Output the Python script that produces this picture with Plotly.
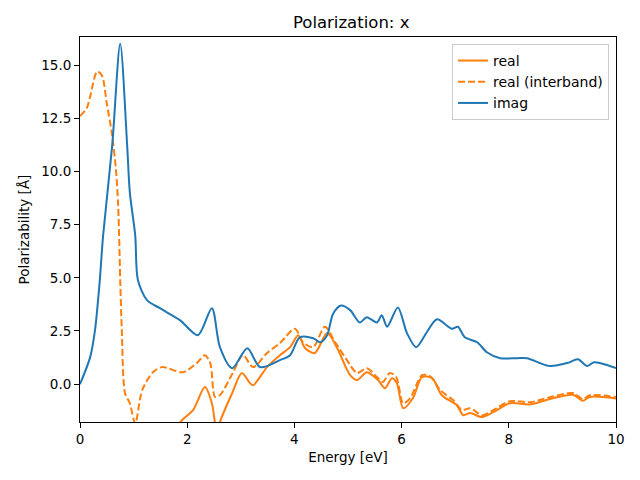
import plotly.graph_objects as go

# ---- data ----
imag_energy = [0, 0.19, 0.28, 0.37, 0.43, 0.60, 0.75, 0.88, 0.93, 1.03, 1.08, 1.25, 1.49, 1.87,
               2.20, 2.46, 2.61, 2.84, 3.12, 3.36, 3.73, 3.92, 4.10, 4.35, 4.48, 4.61, 4.72,
               4.87, 5.04, 5.22, 5.35, 5.54, 5.63, 5.73, 5.93, 6.10, 6.27, 6.47, 6.66, 6.94,
               7.05, 7.18, 7.41, 7.59, 7.84, 8.15, 8.34, 8.58, 8.77, 9.09, 9.29, 9.46, 9.59,
               9.83, 10.0]
imag_values = [0.0, 1.27, 2.54, 4.9, 6.96, 11.2, 16.0, 11.2, 9.0, 7.0, 4.9, 3.95, 3.57, 3.0,
               2.3, 3.57, 1.74, 0.75, 1.69, 0.8, 1.13, 1.36, 2.2, 2.16, 1.97, 2.3, 3.3,
               3.7, 3.48, 2.9, 3.15, 2.9, 3.24, 2.7, 3.6, 2.4, 1.74, 2.44, 3.05, 2.6,
               2.7, 2.2, 1.97, 1.5, 1.22, 1.22, 1.22, 0.99, 0.85, 0.99, 1.17, 0.85, 1.03,
               0.9, 0.75]

inter_energy = [0, 0.13, 0.32, 0.41, 0.50, 0.60, 0.67, 0.71, 0.73, 0.75, 0.78, 0.84, 0.93, 1.03,
                1.16, 1.36, 1.53, 1.92, 2.18, 2.33, 2.43, 2.52, 2.61, 2.85, 3.04, 3.23, 3.49,
                3.73, 4.01, 4.16, 4.35, 4.57, 4.76, 4.98, 5.17, 5.35, 5.54, 5.65, 5.78, 5.90,
                6.03, 6.16, 6.38, 6.53, 6.72, 6.96, 7.13, 7.28, 7.50, 7.71, 8.02, 8.40, 8.77,
                9.20, 9.38, 9.51, 10.0]
inter_values = [12.6, 13.0, 14.7, 14.5, 13.2, 11.7, 10.1, 8.5, 6.96, 4.9, 2.54, -0.42, -0.9, -1.85,
                -0.28, 0.56, 0.8, 0.56, 0.99, 1.36, 0.99, -0.6, -0.52, 0.52, 1.36, 0.8, 1.46,
                1.93, 2.6, 1.97, 1.74, 2.7, 1.97, 1.13, 0.52, 0.75, 0.33, 0.1, 0.52, 0.33,
                -0.9, -0.66, 0.42, 0.38, -0.28, -0.75, -1.22, -1.13, -1.46, -1.22, -0.8, -0.85, -0.61,
                -0.42, -0.7, -0.52, -0.61]

real_energy = [0.05, 0.3, 0.6, 1.0, 1.4, 1.87, 2.11, 2.33, 2.46, 2.52, 2.57, 2.61, 2.84, 3.02,
               3.17, 3.23, 3.49, 3.73, 3.92, 4.07, 4.20, 4.38, 4.61, 4.79, 5.04, 5.17, 5.35,
               5.56, 5.69, 5.82, 5.91, 6.03, 6.21, 6.38, 6.57, 6.75, 7.03, 7.15, 7.28, 7.50,
               7.71, 8.02, 8.40, 8.77, 9.20, 9.38, 9.51, 10.0]
real_values = [-200, -60, -25, -10, -4.5, -1.79, -1.22, -0.14, -0.9, -1.83, -2.3, -1.79, -0.42, 0.52,
               0.05, -0.05, 0.8, 1.36, 1.74, 2.3, 1.69, 1.46, 2.4, 1.74, 0.42, 0.19, 0.56,
               0.19, -0.19, 0.28, 0.05, -1.13, -0.66, 0.33, 0.28, -0.52, -0.99, -1.46, -1.36, -1.55,
               -1.32, -0.9, -0.95, -0.7, -0.5, -0.78, -0.6, -0.68]

x_ticks = [0, 2, 4, 6, 8, 10]
y_ticks = [0, 2.5, 5, 7.5, 10, 12.5, 15]
y_tick_labels = ["0.0", "2.5", "5.0", "7.5", "10.0", "12.5", "15.0"]

BLUE = "#1f77b4"
ORANGE = "#ff7f0e"

fig = go.Figure()
fig.add_trace(go.Scatter(x=real_energy, y=real_values, mode="lines", name="real",
                         line=dict(color=ORANGE, width=2, shape="spline", smoothing=0.8)))
fig.add_trace(go.Scatter(x=inter_energy, y=inter_values, mode="lines", name="real (interband)",
                         line=dict(color=ORANGE, width=2, dash="7px,3px", shape="spline", smoothing=0.8)))
fig.add_trace(go.Scatter(x=imag_energy, y=imag_values, mode="lines", name="imag",
                         line=dict(color=BLUE, width=2, shape="spline", smoothing=0.8)))

axis_common = dict(showline=True, linecolor="black", linewidth=1, mirror=True,
                   ticks="outside", ticklen=5, tickcolor="black", showgrid=False,
                   zeroline=False, tickfont=dict(size=13.5, color="black"),
                   title_font=dict(size=13.5, color="black"))

# the page places the figure 8px from the top-left corner
fig.update_layout(
    width=632, height=472,
    margin=dict(l=72, r=24, t=29, b=58),
    paper_bgcolor="white", plot_bgcolor="white",
    font=dict(family="DejaVu Sans", color="black"),
    title=dict(text="Polarization: x", x=0.543, xanchor="center", y=0.97, yanchor="middle",
               font=dict(size=16.5, color="black")),
    xaxis=dict(range=[0, 10], tickvals=x_ticks, title=dict(text="Energy [eV]", standoff=6),
               **axis_common),
    yaxis=dict(range=[-1.78, 16.32], tickvals=y_ticks, ticktext=y_tick_labels,
               title=dict(text="Polarizability [Å]", standoff=8), **axis_common),
    legend=dict(x=0.987, y=0.982, xanchor="right", yanchor="top",
                bordercolor="#cccccc", borderwidth=1, bgcolor="rgba(255,255,255,0.8)",
                font=dict(size=14, color="black"), tracegroupgap=0),
    showlegend=True,
)

fig.write_html("out.html")
